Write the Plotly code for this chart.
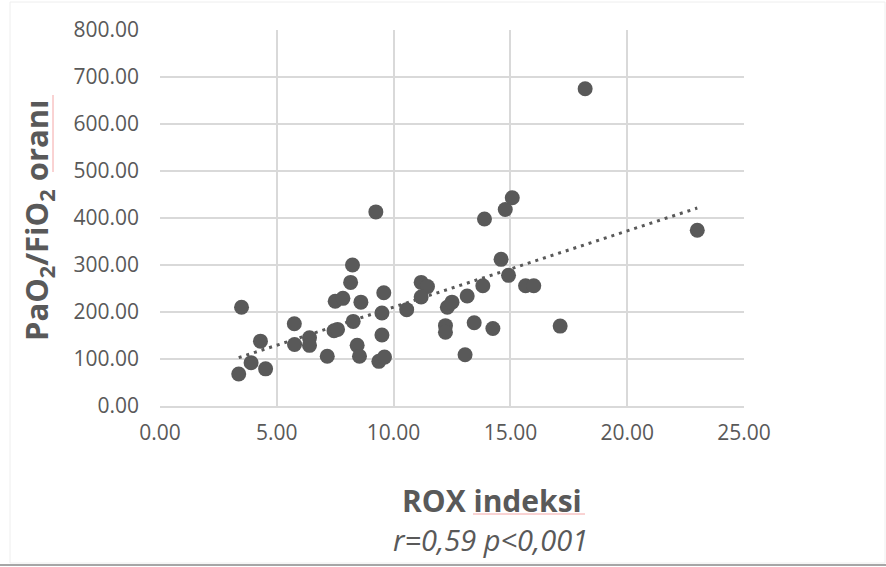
import numpy as np
import plotly.graph_objects as go

rox = [3.37, 3.49, 3.90, 4.30, 4.52, 5.76, 5.75, 6.40, 6.40, 7.16,
       7.50, 7.83, 7.45, 7.60, 8.16, 8.24, 8.60, 8.27, 8.44, 8.54,
       9.24, 9.58, 9.50, 9.50, 9.37, 9.61, 10.56, 11.18, 11.45, 11.18,
       12.30, 12.50, 12.22, 12.22, 13.15, 13.45, 13.06, 13.82, 13.89, 14.25,
       14.60, 14.78, 15.08, 14.92, 15.65, 16.00, 17.13, 18.20, 23.00]
pf = [68, 210, 92, 138, 79, 131, 175, 145, 129, 106,
      223, 229, 160, 163, 263, 300, 221, 180, 129, 106,
      413, 241, 198, 151, 95, 104, 205, 263, 254, 232,
      210, 221, 171, 157, 234, 177, 109, 256, 398, 165,
      312, 418, 443, 278, 256, 256, 170, 675, 374]

x_ticks = [0, 5, 10, 15, 20, 25]
y_ticks = [0, 100, 200, 300, 400, 500, 600, 700, 800]

GREY = "#595959"
FONT = "Open Sans"

xa = np.array(rox)
ya = np.array(pf)
slope, icpt = np.polyfit(xa, ya, 1)
tx = np.array([xa.min(), xa.max()])
ty = slope * tx + icpt

fig = go.Figure()
fig.add_trace(go.Scatter(x=tx, y=ty, mode="lines",
                         line=dict(color=GREY, width=3, dash="3px,5px"),
                         hoverinfo="skip", showlegend=False))
fig.add_trace(go.Scatter(x=rox, y=pf, mode="markers",
                         marker=dict(color=GREY, size=15, line=dict(width=0)),
                         showlegend=False))

L, R, T, B = 160, 142, 30, 161
W, H = 886 - L - R, 567 - T - B

def px(p):
    return (p - L) / W

def py(p):
    return (567 - B - p) / H

fig.update_layout(
    width=886, height=567,
    margin=dict(l=L, r=R, t=T, b=B),
    paper_bgcolor="white", plot_bgcolor="white",
    font=dict(family=FONT, color=GREY, size=21),
    xaxis=dict(range=[0, 25], tickvals=x_ticks, tickformat=".2f",
               showgrid=True, gridcolor="#d9d9d9", gridwidth=1.5,
               zeroline=False, showline=True, linecolor="#d9d9d9", linewidth=1.5,
               ticks="", ticklabelstandoff=7, mirror=False,
               tickfont=dict(family=FONT, size=21, color=GREY)),
    yaxis=dict(range=[0, 800], tickvals=y_ticks, tickformat=".2f",
               showgrid=True, gridcolor="#d9d9d9", gridwidth=1.5,
               zeroline=False, showline=False,
               ticks="", ticklabelstandoff=20,
               tickfont=dict(family=FONT, size=21, color=GREY)),
)

fig.add_annotation(xref="paper", yref="paper", x=px(38), y=py(220),
                   text="<b>PaO<sub>2</sub>/FiO<sub>2</sub> oranı</b>", textangle=-90,
                   showarrow=False, xanchor="center", yanchor="middle",
                   font=dict(family=FONT, size=31, color=GREY))
fig.add_annotation(xref="paper", yref="paper", x=px(492), y=py(500),
                   text="<b>ROX indeksi</b>", showarrow=False,
                   xanchor="center", yanchor="middle",
                   font=dict(family=FONT, size=30, color=GREY))
fig.add_annotation(xref="paper", yref="paper", x=px(490), y=py(539),
                   text="<i>r=0,59 p<0,001</i>", showarrow=False,
                   xanchor="center", yanchor="middle",
                   font=dict(family=FONT, size=29, color=GREY))

# chart frame
fig.add_shape(type="rect", xref="paper", yref="paper",
              x0=px(10), x1=px(885), y0=py(563), y1=py(2),
              line=dict(color="#eeeeee", width=1), layer="below")
fig.add_shape(type="line", xref="paper", yref="paper",
              x0=px(0), x1=px(886), y0=py(565), y1=py(565),
              line=dict(color="#a6a6a6", width=2))
# spell-check underlines
fig.add_shape(type="line", xref="paper", yref="paper",
              x0=px(473), x1=px(585), y0=py(514), y1=py(514),
              line=dict(color="#f4a6a6", width=1))
fig.add_shape(type="line", xref="paper", yref="paper",
              x0=px(53), x1=px(53), y0=py(95), y1=py(172),
              line=dict(color="#f4a6a6", width=1))

fig.write_html("out.html")
